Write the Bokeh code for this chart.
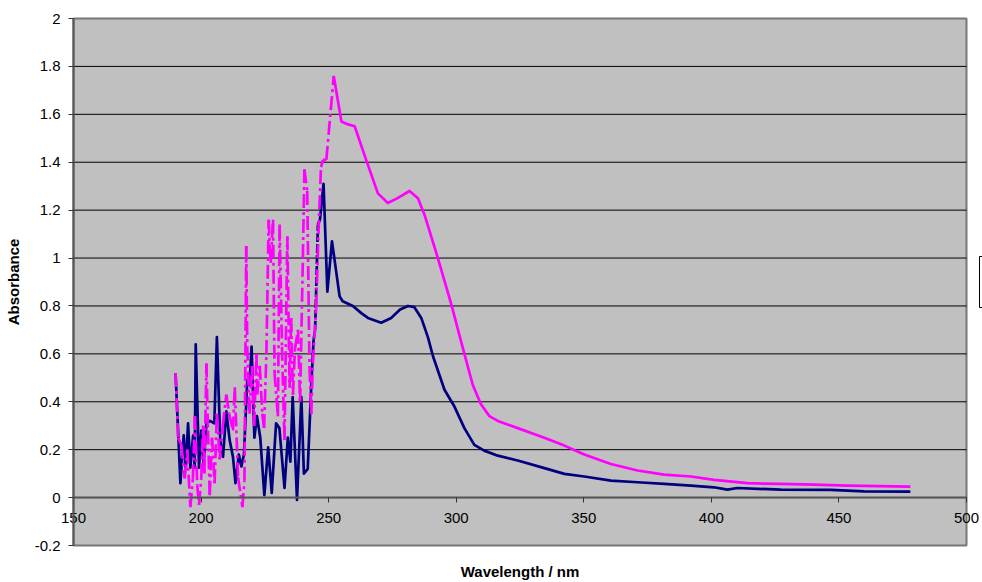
from bokeh.plotting import figure
from bokeh.models import FixedTicker, Label
from bokeh.embed import file_html
from bokeh.resources import INLINE

# ---------------- data ----------------
NAVY_WL = [190.0, 191.9, 193.2, 194.0, 194.9, 195.8, 196.9, 197.5, 197.9, 199.2,
           200.1, 201.0, 202.1, 203.5, 205.2, 206.2, 207.5, 208.6, 209.9, 211.2,
           212.5, 213.5, 214.8, 215.8, 216.8, 218.1, 219.0, 219.8, 220.9, 221.9,
           223.2, 224.8, 226.3, 227.7, 229.4, 230.7, 232.7, 234.0, 235.0, 235.9,
           237.6, 239.3, 240.3, 241.8, 243.2, 244.1, 244.7, 245.8, 246.6, 248.0,
           249.5, 251.3, 253.0, 254.3, 255.5, 259.5, 262.8, 265.4, 270.6, 274.5,
           278.0, 281.1, 283.6, 286.3, 288.9, 290.9, 295.4, 299.3, 303.2, 307.1,
           311.0, 316.3, 324.1, 333.2, 342.4, 350.2, 360.6, 371.1, 381.5, 392.0,
           401.0, 406.3, 410.2, 427.2, 446.8, 459.8, 478.0]
NAVY_ABS = [0.52, 0.06, 0.26, 0.12, 0.31, 0.125, 0.26, 0.125, 0.64, 0.125,
            0.28, 0.14, 0.31, 0.32, 0.31, 0.67, 0.24, 0.17, 0.36, 0.24,
            0.17, 0.06, 0.18, 0.13, 0.18, 0.49, 0.47, 0.63, 0.25, 0.34,
            0.25, 0.01, 0.21, 0.02, 0.31, 0.29, 0.04, 0.25, 0.15, 0.42,
            -0.01, 0.42, 0.10, 0.12, 0.47, 0.66, 0.70, 1.14, 1.16, 1.31,
            0.86, 1.07, 0.94, 0.84, 0.82, 0.80, 0.77, 0.75, 0.73, 0.75,
            0.785, 0.80, 0.795, 0.75, 0.67, 0.59, 0.45, 0.38, 0.29, 0.22,
            0.196, 0.175, 0.155, 0.127, 0.099, 0.088, 0.071, 0.064, 0.057, 0.05,
            0.043, 0.033, 0.04, 0.033, 0.032, 0.026, 0.025]

PINK_WL = [190.0, 191.0, 192.3, 193.6, 194.6, 195.8, 196.8, 197.6, 198.5, 199.2,
           200.1, 200.8, 201.3, 202.1, 202.7, 203.4, 204.3, 205.3, 206.2, 207.3,
           208.5, 209.9, 211.0, 212.5, 213.2, 214.5, 216.2, 217.0, 217.7, 218.1,
           219.0, 220.0, 220.8, 221.7, 222.0, 223.0, 224.0, 224.7, 225.6, 226.5,
           227.3, 228.2, 228.8, 230.1, 230.8, 231.7, 232.7, 233.8, 234.7, 235.3,
           236.0, 236.8, 238.0, 238.8, 239.9, 240.5, 241.6, 242.5, 243.2, 243.8,
           245.1, 246.0, 247.0, 247.8, 249.1, 252.0, 255.0, 257.0, 260.2, 264.7,
           269.3, 273.2, 277.0, 281.7, 285.0, 287.6, 292.8, 298.0, 303.2, 306.5,
           309.7, 313.0, 316.3, 324.1, 334.5, 342.4, 350.2, 360.6, 371.1, 381.5,
           392.0, 401.1, 414.2, 427.2, 440.3, 453.3, 478.0]
PINK_ABS = [0.52, 0.25, 0.22, 0.08, 0.20, -0.04, 0.08, 0.34, 0.05, -0.03,
            0.085, 0.30, 0.10, 0.56, 0.28, 0.01, 0.25, 0.06, 0.35, 0.16,
            0.30, 0.43, 0.35, 0.28, 0.46, 0.085, -0.04, 0.07, 1.05, 0.63,
            0.35, 0.55, 0.30, 0.60, 0.43, 0.55, 0.35, 0.29, 0.60, 1.16,
            0.98, 1.16, 0.52, 0.34, 1.14, 0.63, 0.24, 1.09, 0.46, 0.75,
            0.43, 0.62, 0.70, 0.40, 1.00, 1.37, 1.28, 0.54, 0.35, 0.56,
            0.79, 1.10, 1.38, 1.41, 1.41, 1.76, 1.57, 1.56, 1.55, 1.41,
            1.27, 1.23, 1.25, 1.28, 1.25, 1.18, 1.00, 0.81, 0.60, 0.47,
            0.39, 0.34, 0.32, 0.29, 0.25, 0.217, 0.18, 0.14, 0.113, 0.096,
            0.088, 0.074, 0.060, 0.057, 0.054, 0.05, 0.046]

XTICKS = [150, 200, 250, 300, 350, 400, 450, 500]
XLABELS = ["150", "200", "250", "300", "350", "400", "450", "500"]
YTICKS = [-0.2, 0, 0.2, 0.4, 0.6, 0.8, 1, 1.2, 1.4, 1.6, 1.8, 2]
YLABELS = ["-0.2", "0", "0.2", "0.4", "0.6", "0.8", "1", "1.2", "1.4", "1.6", "1.8", "2"]

X_TITLE = "Wavelength / nm"
Y_TITLE = "Absorbance"

# ---------------- layout / style ----------------
X_MIN, X_MAX = 150, 500
Y_MIN, Y_MAX = -0.2, 2
X_CROSS = 0                                       # category axis crosses at y = 0
W, H = 982, 582
PLOT_L, PLOT_R, PLOT_T, PLOT_B = 73, 966, 18, 545   # pixel box of the grey plot area
KX = (PLOT_R - PLOT_L) / (X_MAX - X_MIN)
KY = (PLOT_B - PLOT_T) / (Y_MAX - Y_MIN)
# the frame fills the whole canvas; axes are pinned to the plot-area edges
X_START, X_END = X_MIN - PLOT_L / KX, X_MAX + (W - PLOT_R) / KX
Y_START, Y_END = Y_MIN - (H - PLOT_B) / KY, Y_MAX + PLOT_T / KY

FONT = "Liberation Sans"
NAVY = "#000080"
PINK = "#FF00FF"
BORDER = "#777777"
AXIS = "#555555"
LW = 2.7
NAVY_DASHED = (244.1, 245.8)   # wavelength span drawn with visible dashes
PINK_DASHED = (190.0, 252.0)

p = figure(width=W, height=H, x_range=(X_START, X_END), y_range=(Y_START, Y_END),
           output_backend="svg", toolbar_location=None,
           min_border_left=0, min_border_right=0, min_border_top=0,
           min_border_bottom=0,
           background_fill_color="white", border_fill_color="white",
           outline_line_color=None)
p.xgrid.visible = False
p.ygrid.visible = False


def style_axis(ax, ticks, labels, title, standoff, title_standoff):
    ax.ticker = FixedTicker(ticks=ticks)
    ax.major_label_overrides = {t: l for t, l in zip(ticks, labels)}
    ax.minor_tick_line_color = None
    ax.major_tick_in = 0
    ax.major_tick_out = 5
    ax.major_tick_line_color = "#333333"
    ax.axis_line_color = AXIS
    ax.axis_line_width = 2
    ax.major_label_standoff = standoff
    ax.major_label_text_font = FONT
    ax.major_label_text_font_size = "15px"
    ax.major_label_text_color = "black"
    ax.axis_label = title
    ax.axis_label_text_font = FONT
    ax.axis_label_text_font_size = "15px"
    ax.axis_label_text_font_style = "bold"
    ax.axis_label_text_color = "black"
    ax.axis_label_standoff = title_standoff


yax = p.yaxis[0]
yax.fixed_location = X_MIN
yax.bounds = (Y_MIN, Y_MAX)
style_axis(yax, YTICKS, YLABELS, Y_TITLE, 8, 10)

xax = p.xaxis[0]
xax.fixed_location = X_CROSS
xax.bounds = (X_MIN, X_MAX)
style_axis(xax, XTICKS, XLABELS, X_TITLE, 10, 37)
xax.major_label_orientation = "horizontal"

# grey plot area with its border
p.quad(left=[X_MIN], right=[X_MAX], bottom=[Y_MIN], top=[Y_MAX],
       fill_color="#C0C0C0", line_color=BORDER, line_width=2)

# horizontal gridlines
inner = [t for t in YTICKS if Y_MIN < t < Y_MAX]
p.segment(x0=[X_MIN] * len(inner), x1=[X_MAX] * len(inner), y0=inner, y1=inner,
          line_color="black", line_width=1)

# legend box cut off by the right edge
p.add_layout(Label(x=X_MAX, y=(Y_MIN + Y_MAX) / 2, x_offset=13, text=" ",
                   text_align="left", text_baseline="middle", text_font_size="10px",
                   background_fill_color="white", border_line_color="black",
                   border_line_width=1, padding=20))


def draw(wl, ab, color, dash, span):
    lo, hi = span
    dashed = [i for i in range(len(wl) - 1) if wl[i] >= lo and wl[i + 1] <= hi]
    if dashed:
        p.segment(x0=[wl[i] for i in dashed], y0=[ab[i] for i in dashed],
                  x1=[wl[i + 1] for i in dashed], y1=[ab[i + 1] for i in dashed],
                  line_color=color, line_width=LW, line_dash=dash)
    runs, cur = [], []
    for i in range(len(wl) - 1):
        if i in dashed:
            if cur:
                runs.append(cur)
                cur = []
            continue
        if not cur:
            cur = [i]
        cur.append(i + 1)
    if cur:
        runs.append(cur)
    p.multi_line(xs=[[wl[k] for k in r] for r in runs],
                 ys=[[ab[k] for k in r] for r in runs],
                 line_color=color, line_width=LW, line_join="round")


draw(NAVY_WL, NAVY_ABS, NAVY, "9 2", NAVY_DASHED)
draw(PINK_WL, PINK_ABS, PINK, "14 4 3 4", PINK_DASHED)

open("out.html", "w").write(file_html(p, INLINE))
